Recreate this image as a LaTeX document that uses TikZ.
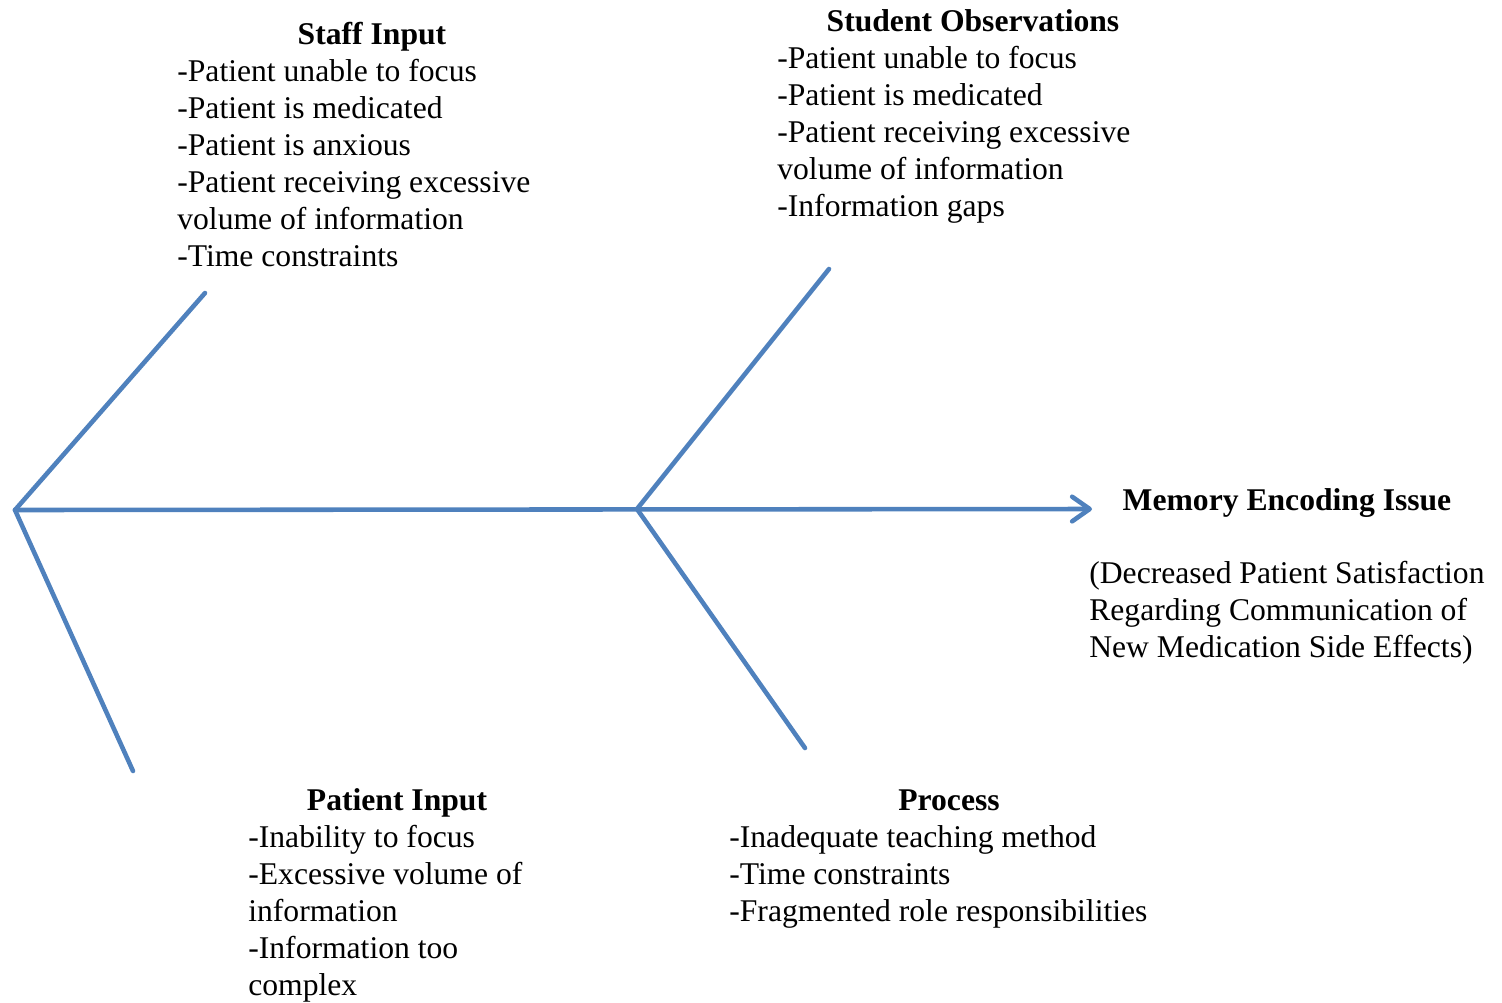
\documentclass[tikz,border=0pt]{standalone}
\usepackage{fontspec}
\setmainfont{Liberation Serif}
\usetikzlibrary{arrows.meta}
\definecolor{bone}{RGB}{79,129,189}

\begin{document}
\begin{tikzpicture}[x=0.02cm,y=-0.02cm,
  bonel/.style={draw=bone,line width=2.6pt,line cap=round,line join=round},
  head/.style={font=\fontsize{18}{21}\selectfont\bfseries,inner sep=0pt,anchor=base},
  items/.style={font=\fontsize{18}{21}\selectfont,align=left,inner sep=0pt,anchor=base west}]
\useasboundingbox (0,0) rectangle (1502,1002);
% spine and bones
\coordinate (tail) at (15,510);
\coordinate (mid) at (637,509);
\coordinate (tip) at (1092,509);
\coordinate (staffb) at (205,293);
\coordinate (patb) at (133,771);
\coordinate (studb) at (829,269);
\coordinate (procb) at (805,748);
\draw[bonel,-{Straight Barb[length=10pt,width=14pt,round]}] (tail)--(tip);
\draw[bonel] (tail)--(staffb);
\draw[bonel] (tail)--(patb);
\draw[bonel] (mid)--(studb);
\draw[bonel] (mid)--(procb);
% cause groups (base west = baseline of the last line)
\node[head] (stafft) at (372,44) {Staff Input};
\node[items] (staff) at (177,266) {-Patient unable to focus\\-Patient is medicated\\-Patient is anxious\\-Patient receiving excessive\\volume of information\\-Time constraints};
\node[head] (studt) at (973,31) {Student Observations};
\node[items] (stud) at (777,216) {-Patient unable to focus\\-Patient is medicated\\-Patient receiving excessive\\volume of information\\-Information gaps};
\node[head] (patt) at (397,810) {Patient Input};
\node[items] (pat) at (248,995) {-Inability to focus\\-Excessive volume of\\information\\-Information too\\complex};
\node[head] (proct) at (949,810) {Process};
\node[items] (proc) at (729,921) {-Inadequate teaching method\\-Time constraints\\-Fragmented role responsibilities};
% effect
\node[head] (effect) at (1287,510) {Memory Encoding Issue};
\node[items] (effectnote) at (1089,657) {(Decreased Patient Satisfaction\\Regarding Communication of\\New Medication Side Effects)};
\end{tikzpicture}
\end{document}
